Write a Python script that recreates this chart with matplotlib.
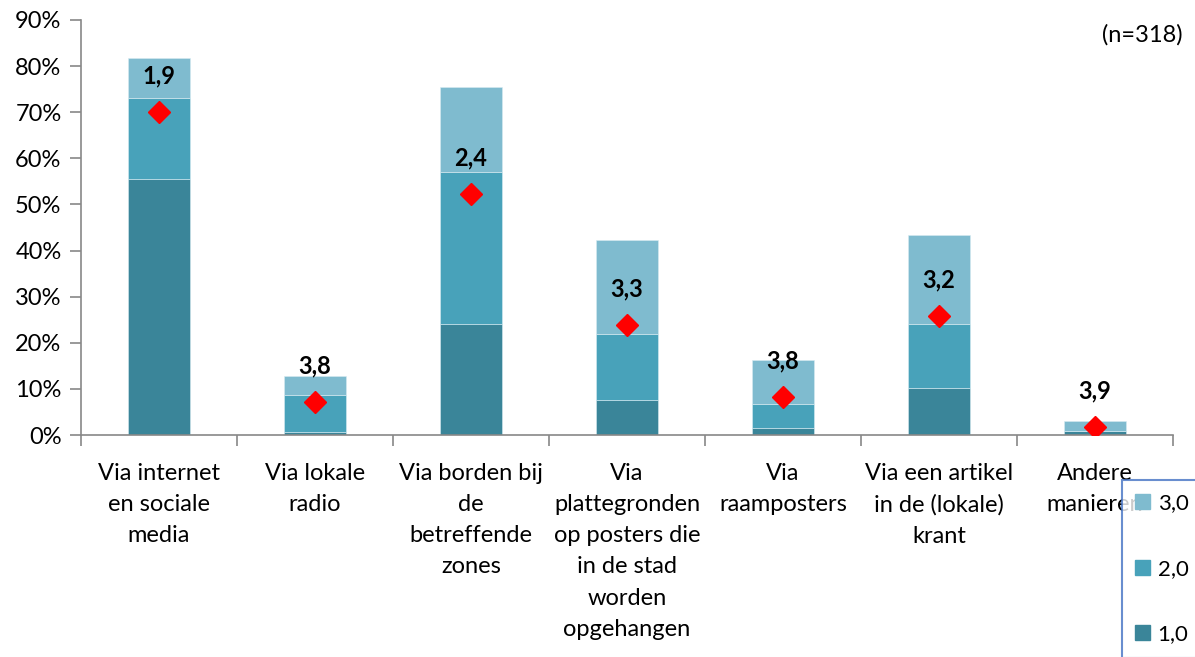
import matplotlib
matplotlib.use("Agg")
import matplotlib.pyplot as plt
from matplotlib.patches import Patch
import numpy as np

plt.rcParams['font.family'] = ['Lato', 'DejaVu Sans']

categories = [
    "Via internet\nen sociale\nmedia",
    "Via lokale\nradio",
    "Via borden bij\nde\nbetreffende\nzones",
    "Via\nplattegronden\nop posters die\nin de stad\nworden\nopgehangen",
    "Via\nraamposters",
    "Via een artikel\nin de (lokale)\nkrant",
    "Andere\nmanieren",
]
seg_1 = [55.5, 0.6, 24.1, 7.6, 1.5, 10.2, 0.9]
seg_2 = [17.6, 8.1, 32.9, 14.3, 5.2, 13.9, 0.0]
seg_3 = [8.7, 4.1, 18.5, 20.4, 9.6, 19.3, 2.1]
diamond_pos = [70.0, 7.2, 52.3, 23.9, 8.2, 25.8, 1.7]
mean_labels = ["1,9", "3,8", "2,4", "3,3", "3,8", "3,2", "3,9"]
series_names = ["1,0", "2,0", "3,0"]
y_ticks = [0, 10, 20, 30, 40, 50, 60, 70, 80, 90]

c1, c2, c3 = "#3A8599", "#48A2BA", "#7FBBCF"
FS = 17

fig = plt.figure(figsize=(11.95, 6.57), dpi=100)
ax = fig.add_axes([81/1195, 1-435/657, (1173-81)/1195, (435-20)/657])

x = np.arange(len(categories))
w = 0.4
s1 = np.array(seg_1); s2 = np.array(seg_2); s3 = np.array(seg_3)
ax.bar(x, s1, w, color=c1, edgecolor='#d8ecf2', linewidth=0.4)
ax.bar(x, s2, w, bottom=s1, color=c2, edgecolor='#d8ecf2', linewidth=0.4)
ax.bar(x, s3, w, bottom=s1+s2, color=c3, edgecolor='#d8ecf2', linewidth=0.4)
ax.plot(x, diamond_pos, linestyle='none', marker='D', color='#FF0000', markersize=11, zorder=5)
for xi, yi, lab in zip(x, diamond_pos, mean_labels):
    ax.annotate(lab, (xi, yi), xytext=(0, 36), textcoords='offset pixels',
                ha='center', va='center', fontsize=FS, fontweight='bold', color='black')

ax.set_xlim(-0.5, len(categories)-0.5)
ax.set_ylim(0, 90)
ax.set_yticks(y_ticks)
ax.set_yticklabels([f"{v}%" for v in y_ticks], fontsize=FS)
ax.set_xticks(np.arange(-0.5, len(categories), 1.0))
ax.set_xticklabels([])
ax.set_xticks(x, minor=True)
ax.set_xticklabels(categories, minor=True, fontsize=FS, linespacing=1.6)
ax.tick_params(axis='x', which='minor', length=0, pad=20)
ax.tick_params(axis='x', which='major', length=8, color='#888888', width=1.2)
ax.tick_params(axis='y', length=8, color='#888888', width=1.2, pad=6)
for s in ['top', 'right']:
    ax.spines[s].set_visible(False)
for s in ['left', 'bottom']:
    ax.spines[s].set_color('#888888')
    ax.spines[s].set_linewidth(1.2)

fig.text(1183/1195, 1-35/657, "(n=318)", ha='right', va='center', fontsize=FS)

handles = [Patch(color=c3), Patch(color=c2), Patch(color=c1)]
leg = fig.legend(handles, [series_names[2], series_names[1], series_names[0]],
                 loc='upper left', bbox_to_anchor=(1122/1195, 1-480/657),
                 bbox_transform=fig.transFigure, frameon=True, fancybox=False,
                 fontsize=16, handlelength=0.65, handleheight=0.65, handletextpad=0.35,
                 labelspacing=2.05, borderpad=0.6, borderaxespad=0)
leg.get_frame().set_edgecolor('#4472C4')
leg.get_frame().set_linewidth(1.5)
leg.set_zorder(10)

fig.savefig("out.png", dpi=100)
